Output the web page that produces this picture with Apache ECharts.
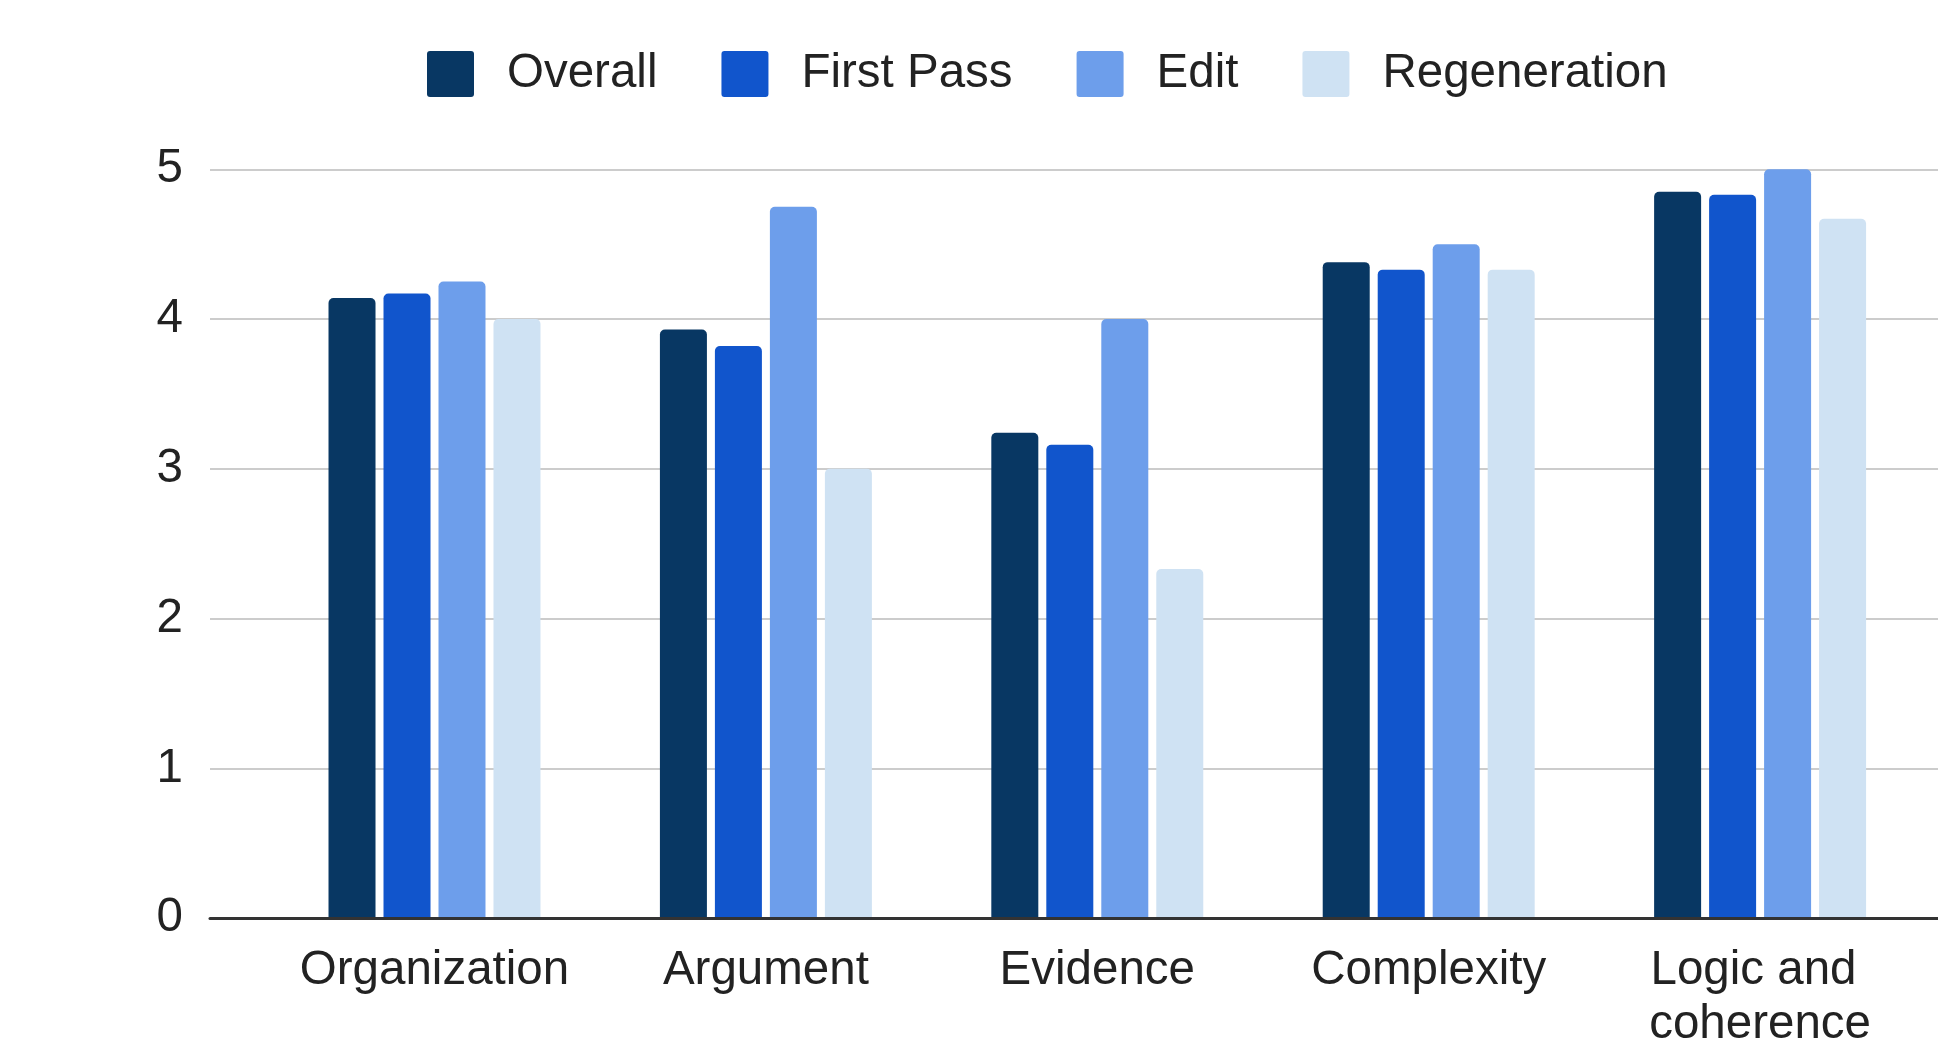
<!DOCTYPE html>
<html>
<head>
<meta charset="utf-8">
<script src="https://cdn.jsdelivr.net/npm/echarts@6/dist/echarts.min.js"></script>
<style>
  html, body { margin: 0; padding: 0; background: #ffffff; }
  #chart { width: 1938px; height: 1052px; }
</style>
</head>
<body>
<div id="chart"></div>
<script>
// Rubric scores per category, averaged per generation mode
const categories = ['Organization', 'Argument', 'Evidence', 'Complexity', 'Logic and coherence'];
const overall      = [4.14, 3.93, 3.24, 4.38, 4.85];
const firstPass    = [4.17, 3.82, 3.16, 4.33, 4.83];
const edit         = [4.25, 4.75, 4.00, 4.50, 5.00];
const regeneration = [4.00, 3.00, 2.33, 4.33, 4.67];
const seriesNames  = ['Overall', 'First Pass', 'Edit', 'Regeneration'];
const seriesColors = ['#083763', '#1155cc', '#6d9eeb', '#cfe2f3'];
const yTicks = { min: 0, max: 5, step: 1 };

const FONT = '"Liberation Sans", Arial, sans-serif';
const TEXT = '#222222';
const FS = 47.5;

const chart = echarts.init(document.getElementById('chart'), null, { renderer: 'canvas' });

const values = [overall, firstPass, edit, regeneration];

// square legend swatch with slightly rounded corners
const swatch = 'path://M3,0 L44,0 Q47,0 47,3 L47,43 Q47,46 44,46 L3,46 Q0,46 0,43 L0,3 Q0,0 3,0 Z';

chart.setOption({
  backgroundColor: '#ffffff',
  animation: false,
  textStyle: { fontFamily: FONT },
  legend: {
    data: seriesNames,
    left: 422,
    top: 45,
    itemWidth: 47,
    itemHeight: 46,
    itemGap: 64,
    icon: swatch,
    textStyle: { fontSize: FS, color: TEXT, fontFamily: FONT, padding: [0, 0, 0, 28] }
  },
  grid: [
    // bars
    { left: 268.8, width: 1657, top: 169.3, bottom: 133.6, containLabel: false },
    // value scale, gridlines and baseline
    { left: 210, right: -60, top: 169.3, bottom: 133.6, containLabel: false }
  ],
  xAxis: [
    {
      type: 'category',
      gridIndex: 0,
      data: categories,
      axisLine: { show: false },
      axisTick: { show: false },
      axisLabel: {
        fontSize: FS,
        color: TEXT,
        fontFamily: FONT,
        margin: 26,
        lineHeight: 54,
        width: 300,
        overflow: 'break',
        interval: 0
      }
    },
    {
      type: 'value',
      gridIndex: 1,
      min: 0,
      max: 1,
      z: 5,
      axisLine: { show: true, lineStyle: { color: '#333333', width: 3 } },
      axisTick: { show: false },
      axisLabel: { show: false },
      splitLine: { show: false }
    }
  ],
  yAxis: [
    {
      type: 'value',
      gridIndex: 0,
      min: yTicks.min,
      max: yTicks.max,
      interval: yTicks.step,
      show: false
    },
    {
      type: 'value',
      gridIndex: 1,
      min: yTicks.min,
      max: yTicks.max,
      interval: yTicks.step,
      axisLine: { show: false },
      axisTick: { show: false },
      axisLabel: { fontSize: FS, color: TEXT, fontFamily: FONT, margin: 27 },
      splitLine: { show: true, lineStyle: { color: '#cccccc', width: 2 } }
    }
  ],
  series: seriesNames.map((name, i) => ({
    name: name,
    type: 'bar',
    xAxisIndex: 0,
    yAxisIndex: 0,
    data: values[i],
    barWidth: 47,
    barGap: '17%',
    itemStyle: { color: seriesColors[i], borderRadius: [5, 5, 0, 0] }
  }))
});
</script>
</body>
</html>
